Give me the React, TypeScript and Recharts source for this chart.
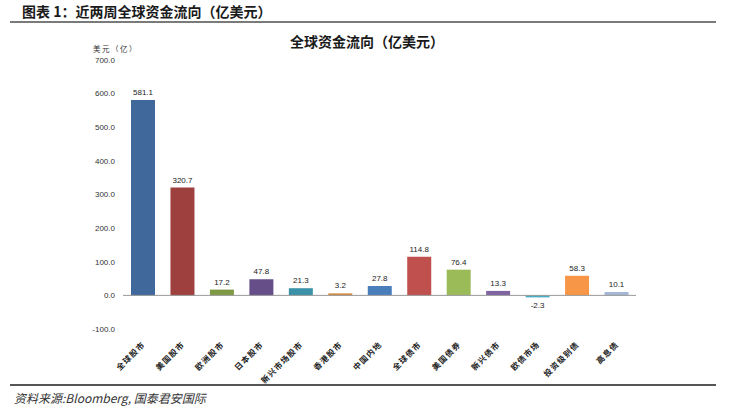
import { BarChart, Bar, XAxis, YAxis, Cell, LabelList, ReferenceLine } from "recharts";

const categories = [
  "全球股市",
  "美国股市",
  "欧洲股市",
  "日本股市",
  "新兴市场股市",
  "香港股市",
  "中国内地",
  "全球债市",
  "美国债券",
  "新兴债市",
  "欧债市场",
  "投资级别债",
  "高息债",
];
const flows = [581.1, 320.7, 17.2, 47.8, 21.3, 3.2, 27.8, 114.8, 76.4, 13.3, -2.3, 58.3, 10.1];
const barColors = [
  "#41689A",
  "#9E413E",
  "#7E9A45",
  "#664E88",
  "#3A91A8",
  "#D3883F",
  "#4A7EBB",
  "#C0504D",
  "#9BBB59",
  "#8064A2",
  "#4BACC6",
  "#F79646",
  "#A5B6D8",
];
const yTicks = [-100, 0, 100, 200, 300, 400, 500, 600, 700];

const data = categories.map((name, i) => ({ name, value: flows[i] }));

const cjk = '"Noto Sans CJK SC", "Noto Sans", sans-serif';

function SlantTick(props: any) {
  const { x, y, payload } = props;
  const ax = x + 3;
  const ay = y + 8;
  return (
    <text
      x={ax}
      y={ay}
      transform={`rotate(-45, ${ax}, ${ay})`}
      textAnchor="end"
      fontSize={8}
      fontWeight="bold"
      letterSpacing={1.2}
      fontFamily={cjk}
      fill="#222"
    >
      {payload.value}
    </text>
  );
}

function ValueLabel(props: any) {
  const { x, y, width, height, value } = props;
  const top = Math.min(y, y + height);
  const bottom = Math.max(y, y + height);
  const ty = value < 0 ? bottom + 11 : top - 5;
  return (
    <text
      x={x + width / 2}
      y={ty}
      textAnchor="middle"
      fontSize={8}
      fill="#222"
      fontFamily="Liberation Sans, sans-serif"
    >
      {Number(value).toFixed(1)}
    </text>
  );
}

export default function App() {
  return (
    <div style={{ position: "absolute", left: 0, top: 0, width: 734, height: 410, background: "#fff", fontFamily: cjk }}>
      <div style={{ position: "absolute", left: 22, top: 1, fontSize: 14, fontWeight: "bold", color: "#1a1a1a" }}>
        图表 1：近两周全球资金流向（亿美元）
      </div>
      <div style={{ position: "absolute", left: 10, top: 21, width: 706, height: 2, background: "#7a7a7a" }} />
      <div style={{ position: "absolute", left: 0, top: 31, width: 734, textAlign: "center", fontSize: 14, fontWeight: "bold", color: "#1a1a1a" }}>
        全球资金流向（亿美元）
      </div>
      <div style={{ position: "absolute", left: 93, top: 43, fontSize: 7.5, letterSpacing: 1.5, color: "#333" }}>美元（亿）</div>
      <BarChart
        width={734}
        height={410}
        data={data}
        margin={{ top: 60, right: 98, bottom: 21, left: 83 }}
        style={{ position: "absolute", left: 0, top: 0 }}
      >
        <XAxis
          dataKey="name"
          axisLine={false}
          tickLine={false}
          interval={0}
          tick={<SlantTick />}
          height={60}
        />
        <YAxis
          domain={[-100, 700]}
          ticks={yTicks}
          axisLine={false}
          tickLine={false}
          width={40}
          tickFormatter={(v: number) => v.toFixed(1)}
          tick={{ fontSize: 8, fill: "#333", fontFamily: "Liberation Sans, sans-serif" }}
        />
        <ReferenceLine y={0} stroke="#999" strokeWidth={1} />
        <Bar dataKey="value" barSize={24} minPointSize={2} isAnimationActive={false}>
          {data.map((d, i) => (
            <Cell key={d.name} fill={barColors[i]} />
          ))}
          <LabelList dataKey="value" content={<ValueLabel />} />
        </Bar>
      </BarChart>
      <div style={{ position: "absolute", left: 10, top: 384, width: 706, height: 2, background: "#555" }} />
      <div style={{ position: "absolute", left: 14, top: 389, fontSize: 12, fontStyle: "italic", color: "#333" }}>
        资料来源:Bloomberg, 国泰君安国际
      </div>
    </div>
  );
}
